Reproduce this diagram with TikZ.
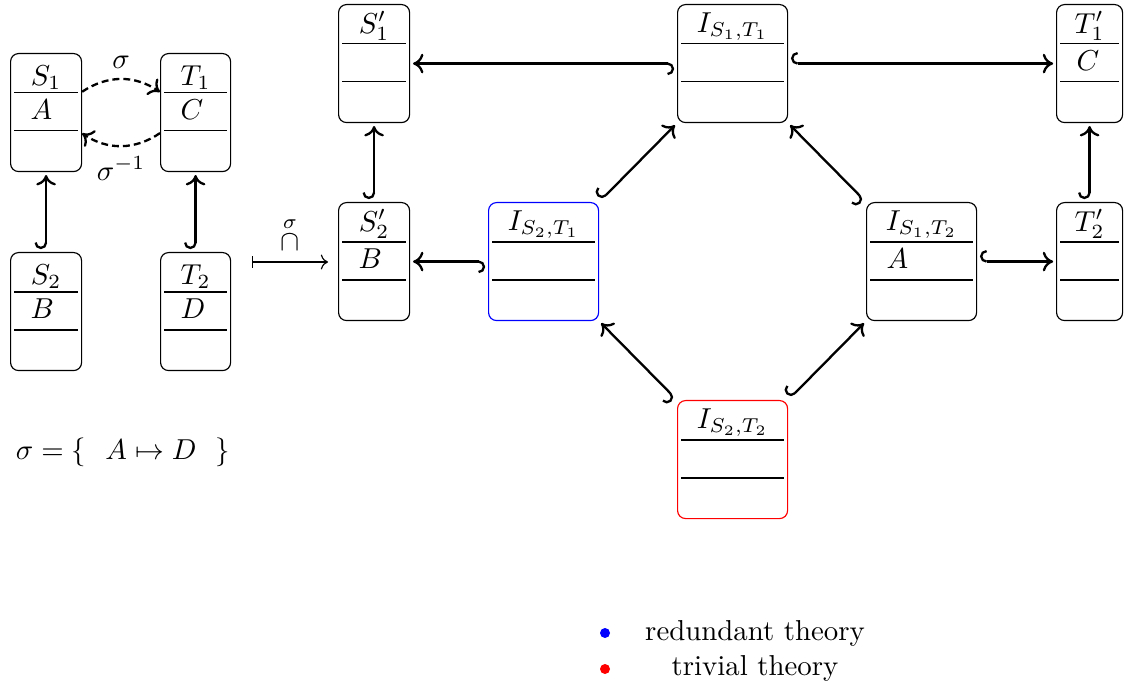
\documentclass[tikz,border=0pt]{standalone}
\usepackage{amsmath}
\usetikzlibrary{arrows.meta,calc}
\def\pxu{0.347pt}
\tikzset{
  tbox/.style={draw, rounded corners=8*\pxu, minimum height=118*\pxu, inner sep=0, line width=0.4pt},
  rulel/.style={line width=0.35pt},
  tipx/.tip={To[length=3.6pt, width=6.8pt]},
  hk/.style={{Hooks[right,scale=1.3]}-tipx, thick, shorten >=1pt, shorten <=1pt},
  dasharrow/.style={-tipx, thick, dash pattern=on 2.4pt off 1.4pt},
}
\newcommand{\tbox}[7]{%
  \node[tbox, draw=#5, minimum width={#4*\pxu}, anchor=north west] (#1) at (#2,#3) {};
  \draw[rulel] ([xshift=4*\pxu, yshift=-40*\pxu]#1.north west) -- ([xshift=-4*\pxu, yshift=-40*\pxu]#1.north east);
  \draw[rulel] ([xshift=4*\pxu, yshift=-78*\pxu]#1.north west) -- ([xshift=-4*\pxu, yshift=-78*\pxu]#1.north east);
  \node[anchor=south, inner sep=0] (#1-t) at ([yshift=-37*\pxu]#1.north) {$#6$};
  \node[anchor=base west, inner sep=0] (#1-r) at ([xshift=20*\pxu, yshift=-67*\pxu]#1.north west) {\ensuremath{#7}};
}
\begin{document}
\begin{tikzpicture}[x=0.347pt, y=-0.347pt]
\useasboundingbox (0,0) rectangle (1126,686);
% left part
\tbox{S1}{10}{53}{71}{black}{S_1}{A}
\tbox{T1}{160}{53}{70}{black}{T_1}{C}
\tbox{S2}{10}{252}{71}{black}{S_2}{B}
\tbox{T2}{160}{252}{70}{black}{T_2}{D}
\draw[hk] (S2.north) -- (S1.south);
\draw[hk] (T2.north) -- (T1.south);
\draw[dasharrow] (S1.30) to[bend left=34] node[above] (lsig) {$\sigma$} (T1.150);
\draw[dasharrow] (T1.210) to[bend left=34] node[below] (lsiginv) {$\sigma^{-1}$} (S1.330);
\node (sigdef) at (123,452) {$\sigma = \left\{\ \ A \mapsto D\ \ \right\}$};
% mapsto
\coordinate (mapstart) at (252,262);
\coordinate (mapend) at (328,262);
\draw[{Bar[width=4pt]}-{To}] (mapstart) -- node[above, inner sep=0, yshift=3.8pt] (maplabel) {$\cap$} (mapend);
\node[anchor=south, inner sep=0] (mapsig) at ([yshift=1.6pt]maplabel.north) {$\scriptstyle\sigma$};
% right part
\tbox{S1p}{338}{4}{71}{black}{S'_1}{}
\tbox{S2p}{338}{202}{71}{black}{S'_2}{B}
\tbox{IS2T1}{488}{202}{110}{blue}{I_{S_2,T_1}}{}
\tbox{IS1T1}{677}{4}{110}{black}{I_{S_1,T_1}}{}
\tbox{IS1T2}{866}{202}{110}{black}{I_{S_1,T_2}}{A}
\tbox{T1p}{1056}{4}{66}{black}{T'_1}{C}
\tbox{T2p}{1056}{202}{66}{black}{T'_2}{}
\tbox{IS2T2}{677}{400}{110}{red}{I_{S_2,T_2}}{}
\draw[hk] (S2p.north) -- (S1p.south);
\draw[hk] (IS2T1.west) -- (S2p.east);
\draw[hk] (IS1T1.west) -- (S1p.east);
\draw[hk] (IS1T1.east) -- (T1p.west);
\draw[hk] (IS2T1.north east) -- (IS1T1.south west);
\draw[hk] (IS1T2.north west) -- (IS1T1.south east);
\draw[hk] (IS1T2.east) -- (T2p.west);
\draw[hk] (T2p.north) -- (T1p.south);
\draw[hk] (IS2T2.north west) -- (IS2T1.south east);
\draw[hk] (IS2T2.north east) -- (IS1T2.south west);
% legend
\node[circle, fill=blue, inner sep=0, minimum size=10*\pxu] (dotb) at (605,633) {};
\node[circle, fill=red, inner sep=0, minimum size=10*\pxu] (dotr) at (605,669) {};
\node[anchor=base] (legb) at (755,640) {redundant theory};
\node[anchor=base] (legr) at (755,675) {trivial theory};
\end{tikzpicture}
\end{document}
